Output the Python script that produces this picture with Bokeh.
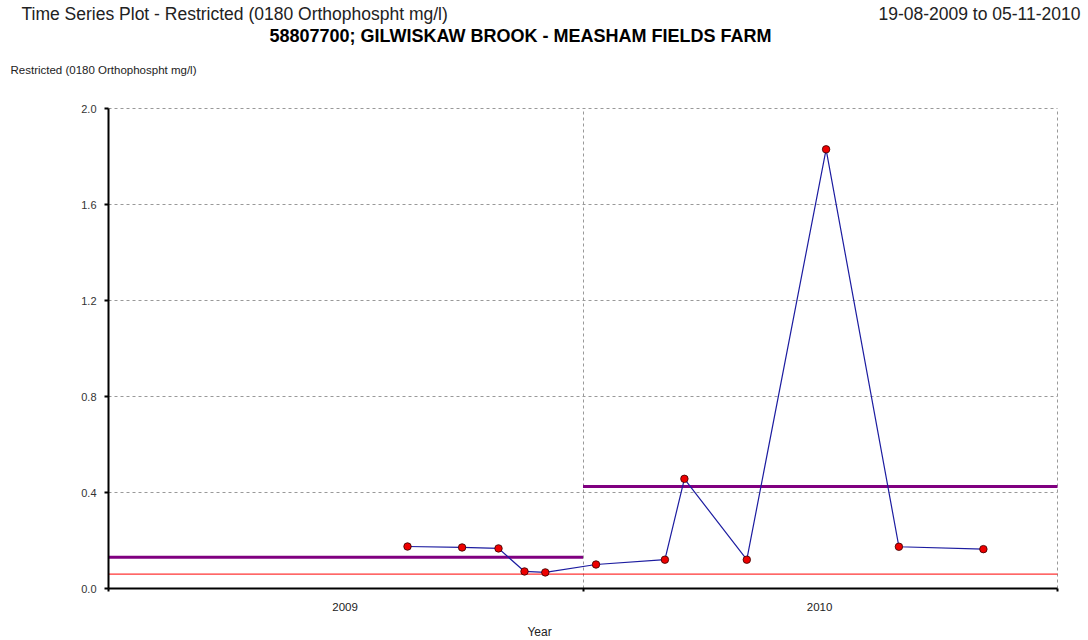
import pandas as pd
from bokeh.plotting import figure
from bokeh.models import (ColumnDataSource, Label, Range1d, FixedTicker, LinearAxis,
                          DatetimeAxis, Grid, PrintfTickFormatter)
from bokeh.embed import file_html
from bokeh.resources import INLINE

# Sample dates and orthophosphate results (mg/l)
sample_dates = ["2009-08-19", "2009-09-30", "2009-10-28", "2009-11-17", "2009-12-03",
                "2010-01-11", "2010-03-05", "2010-03-20", "2010-05-07", "2010-07-07",
                "2010-09-01", "2010-11-05"]
orthophosphate = [0.175, 0.171, 0.167, 0.071, 0.067,
                  0.10, 0.12, 0.457, 0.12, 1.83,
                  0.174, 0.164]

# Annual mean lines and the standard threshold
year_starts = ["2009-01-01", "2010-01-01"]
year_ends = ["2010-01-01", "2011-01-01"]
annual_means = [0.13, 0.425]
threshold = 0.06

year_labels = ["2009", "2010"]
year_label_pos = ["2009-07-02", "2010-07-02"]
year_bounds = ["2009-01-01", "2010-01-01", "2011-01-01"]
y_ticks = [0.0, 0.4, 0.8, 1.2, 1.6, 2.0]
y_max = 2.0

FONT = "Liberation Sans"
W, H = 1088, 640
# Page pixels of the plotting area
PX_LEFT, PX_RIGHT, PX_TOP, PX_BOTTOM = 108, 1057, 108, 588


def ms(d):
    return pd.Timestamp(d).value / 1e6


x0, x1 = ms(year_bounds[0]), ms(year_bounds[-1])
kx = (x1 - x0) / (PX_RIGHT - PX_LEFT)
ky = y_max / (PX_BOTTOM - PX_TOP)

# The frame covers the whole page; axes are pinned inside it at the data origin
p = figure(width=W, height=H, output_backend="svg", toolbar_location=None,
           x_range=Range1d(x0 - PX_LEFT * kx, x0 + (W - PX_LEFT) * kx),
           y_range=Range1d(-(H - PX_BOTTOM) * ky, y_max + PX_TOP * ky),
           x_axis_location=None, y_axis_location=None,
           min_border=0, outline_line_color=None)
p.grid.visible = False

yaxis = LinearAxis(fixed_location=x0, bounds=(0, y_max),
                   ticker=FixedTicker(ticks=y_ticks),
                   formatter=PrintfTickFormatter(format="%.1f"))
yaxis.axis_line_width = 2
yaxis.axis_line_color = "black"
yaxis.major_tick_line_width = 2
yaxis.major_tick_in = 0
yaxis.major_tick_out = 4
yaxis.minor_tick_line_color = None
yaxis.major_label_text_font = FONT
yaxis.major_label_text_font_size = "11px"
yaxis.major_label_text_color = "#333333"
yaxis.major_label_standoff = 8
p.add_layout(yaxis, "left")

# Year names sit mid-year; small ticks mark the year boundaries
label_ticks = [ms(d) for d in year_label_pos]
bounds = [ms(d) for d in year_bounds]
xaxis = DatetimeAxis(fixed_location=0, bounds=(x0, x1),
                     ticker=FixedTicker(ticks=label_ticks, minor_ticks=bounds))
xaxis.major_label_overrides = {t: s for t, s in zip(label_ticks, year_labels)}
xaxis.major_label_text_font = FONT
xaxis.major_label_text_font_size = "11.5px"
xaxis.major_label_text_color = "#222222"
xaxis.major_label_standoff = 11
xaxis.major_tick_line_color = None
xaxis.major_tick_in = 0
xaxis.major_tick_out = 0
xaxis.minor_tick_line_color = "black"
xaxis.minor_tick_line_width = 2
xaxis.minor_tick_in = 0
xaxis.minor_tick_out = 3
xaxis.axis_line_width = 2
xaxis.axis_line_color = "black"
p.add_layout(xaxis, "below")

# Dashed grid, limited to the plotting area
ygrid = Grid(dimension=1, ticker=FixedTicker(ticks=y_ticks[1:]), cross_bounds=(x0, x1))
xgrid = Grid(dimension=0, ticker=FixedTicker(ticks=bounds[1:]), cross_bounds=(0, y_max))
for g in (xgrid, ygrid):
    g.grid_line_color = "#999999"
    g.grid_line_dash = "3 3"
    g.grid_line_width = 1
    p.add_layout(g)

# Threshold line across both years
p.segment(x0=[x0], y0=[threshold], x1=[x1], y1=[threshold],
          line_color="#ff0000", line_width=1)

# Annual mean segments
seg_src = ColumnDataSource(dict(x0=[ms(d) for d in year_starts], x1=[ms(d) for d in year_ends],
                                y0=annual_means, y1=annual_means))
p.segment(x0="x0", y0="y0", x1="x1", y1="y1", source=seg_src,
          line_color="#800080", line_width=3)

# Series
src = ColumnDataSource(dict(x=[ms(d) for d in sample_dates], y=orthophosphate))
p.line("x", "y", source=src, line_color="#1c1ca0", line_width=1.2)
p.scatter("x", "y", source=src, size=7.5, fill_color="#ee0000",
          line_color="#330000", line_width=0.8)


def put_text(text, x, y, size, align="left", bold=False, color="#222222"):
    # x, y are page pixels from the top-left corner
    p.add_layout(Label(x=x, y=H - y, x_units="screen", y_units="screen",
                       text=text, text_font=FONT, text_font_size=size,
                       text_align=align, text_baseline="middle",
                       text_font_style="bold" if bold else "normal",
                       text_color=color))


put_text("Time Series Plot - Restricted (0180 Orthophospht mg/l)", 21, 13, "17.5px")
put_text("19-08-2009 to 05-11-2010", 1080, 13, "17.5px", align="right")
put_text("58807700; GILWISKAW BROOK - MEASHAM FIELDS FARM", 520, 35, "18px",
         align="center", bold=True, color="#000000")
put_text("Restricted (0180 Orthophospht mg/l)", 10, 69, "11.5px")
put_text("Year", 539, 631, "12px", align="center")

open("out.html", "w").write(file_html(p, INLINE))
